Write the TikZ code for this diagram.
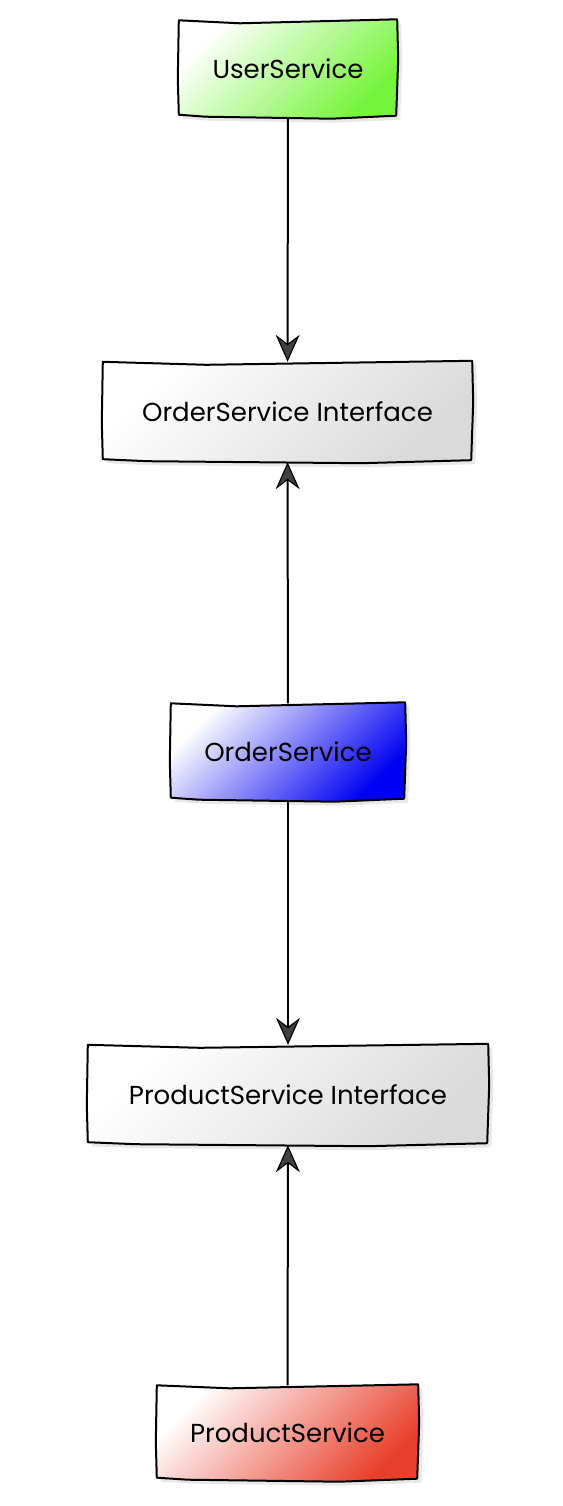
\documentclass[tikz,border=0pt]{standalone}
\usepackage{fontspec}
\setmainfont{Poppins}
\usetikzlibrary{calc,shadows,arrows.meta,backgrounds}

\definecolor{usergreen}{HTML}{74F43A}
\definecolor{orderblue}{HTML}{0000F2}
\definecolor{prodred}{HTML}{E8402C}
\definecolor{ifgray}{HTML}{DADADA}

\tikzstyle{svc}=[rectangle, inner sep=0, font=\fontsize{26}{30}\selectfont]
\tikzstyle{sketch}=[line width=2, line join=round]
\tikzstyle{link}=[line width=2, -{Stealth[length=27, width=24, inset=9, fill=black!75, line width=1.2]}]
\newcommand{\drawsketchbox}[2]{
  \shade[draw, sketch, top color=white, bottom color=#2, shading angle=45,
    drop shadow={opacity=.18, shadow xshift=4pt, shadow yshift=-4pt}]
    (#1.north west)
    -- ($(#1.north west)!.28!(#1.north east)+(0,3)$)
    -- ($(#1.north east)+(0,-1)$)
    -- ($(#1.north east)!.4!(#1.south east)+(1,0)$)
    -- ($(#1.south east)+(-1,-2)$)
    -- ($(#1.south west)!.7!(#1.south east)+(0,1)$)
    -- ($(#1.south west)!.12!(#1.south east)+(0,-1)$)
    -- ($(#1.south west)+(0,-3)$)
    -- ($(#1.north west)!.6!(#1.south west)+(-1,0)$)
    -- cycle;
}

\begin{document}
\begin{tikzpicture}[x=1pt, y=-1pt]
  \useasboundingbox (0,0) rectangle (562,1506);
  \node[svc, minimum width=218, minimum height=97] (user) at (288,69) {UserService};
  \node[svc, minimum width=369, minimum height=100] (orderif) at (287.5,412) {OrderService Interface};
  \node[svc, minimum width=234, minimum height=97] (order) at (288,752) {OrderService};
  \node[svc, minimum width=400, minimum height=100] (prodif) at (288,1095) {ProductService Interface};
  \node[svc, minimum width=261, minimum height=95] (prod) at (287.5,1433) {ProductService};
  \begin{scope}[on background layer]
    \drawsketchbox{user}{usergreen}
    \drawsketchbox{orderif}{ifgray}
    \drawsketchbox{order}{orderblue}
    \drawsketchbox{prodif}{ifgray}
    \drawsketchbox{prod}{prodred}
  \end{scope}
  \draw[link] (user) -- (orderif);
  \draw[link] (order) -- (orderif);
  \draw[link] (order) -- (prodif);
  \draw[link] (prod) -- (prodif);
\end{tikzpicture}
\end{document}
